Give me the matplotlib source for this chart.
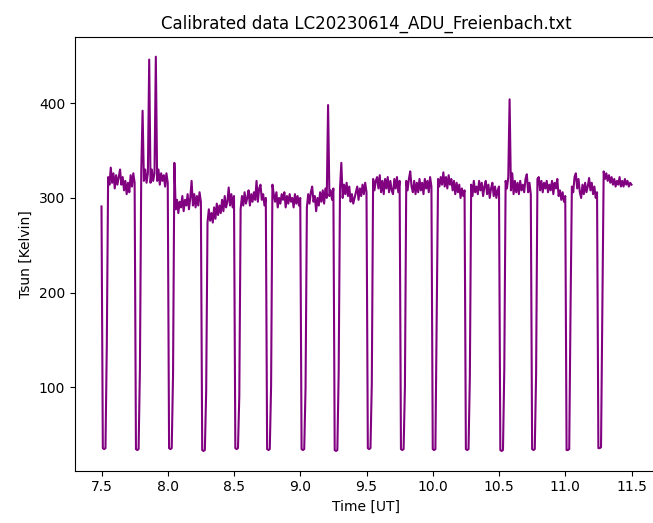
import numpy as np
import matplotlib
matplotlib.use("Agg")
import matplotlib.pyplot as plt

# ---- data ----
t_start = 7.50          # hours UT, first sample
t_step = 0.01           # sampling interval (hours)
first_value = 291

# calibration dips: three floor samples and one recovery sample each
dip_floor = [[36, 35, 36], [35, 34, 35], [36, 35, 36], [34, 33, 34],
             [36, 35, 36], [35, 34, 35], [35, 34, 35], [34, 33, 34],
             [36, 35, 36], [35, 34, 35], [35, 34, 35], [35, 34, 35],
             [34, 33, 34], [35, 34, 35], [34, 34, 35], [36, 36, 37]]
dip_recovery = [145, 120, 114, 96, 91, 102, 100, 116, 104, 101, 183, 111,
                120, 114, 184, 188]

# sun plateaus following each dip (Kelvin)
plateau_01 = [322, 314, 332, 316, 326, 310, 324, 314, 322, 330, 314,
              322, 308, 318, 304, 316, 306, 324, 312, 326, 316]
plateau_02 = [328, 392, 318, 330, 316, 326, 446, 316, 330, 318, 326,
              449, 318, 330, 314, 326, 318, 324, 312, 326, 316]
plateau_03 = [337, 288, 298, 284, 296, 290, 302, 286, 298, 292, 304,
              288, 300, 318, 292, 304, 290, 302, 292, 306, 296]
plateau_04 = [274, 288, 276, 284, 274, 290, 278, 294, 282, 292, 284,
              298, 286, 302, 290, 296, 311, 292, 304, 290, 302]
plateau_05 = [288, 302, 292, 306, 294, 300, 308, 292, 304, 296, 306,
              298, 318, 296, 310, 314, 298, 304, 292, 300]
plateau_06 = [314, 304, 296, 306, 290, 300, 294, 304, 298, 306, 290,
              302, 294, 304, 296, 300, 290, 304, 294, 302, 292, 300]
plateau_07 = [290, 304, 294, 306, 312, 296, 302, 286, 300, 292, 306,
              296, 308, 294, 310, 300, 398, 302, 308, 298, 310]
plateau_08 = [310, 337, 300, 314, 304, 316, 302, 312, 296, 304, 294,
              300, 306, 312, 298, 310, 302, 314, 304, 316, 306]
plateau_09 = [320, 308, 318, 322, 310, 324, 306, 318, 304, 320, 310,
              322, 306, 318, 308, 304, 320, 310, 322, 306, 318]
plateau_10 = [318, 308, 320, 328, 312, 306, 318, 304, 316, 306, 320,
              308, 316, 304, 320, 310, 318, 306, 322, 312]
plateau_11 = [320, 312, 322, 314, 327, 312, 322, 310, 324, 314, 320,
              308, 318, 304, 316, 306, 314, 300, 310, 302, 308]
plateau_12 = [314, 302, 318, 306, 312, 304, 318, 308, 316, 302, 312,
              318, 304, 314, 300, 310, 316, 302, 312, 300, 308, 312]
plateau_13 = [318, 310, 322, 404, 308, 326, 304, 318, 306, 316, 304,
              318, 308, 314, 306, 320, 325, 306, 316, 304]
plateau_14 = [320, 322, 308, 318, 306, 316, 310, 318, 306, 314, 308,
              318, 304, 316, 310, 320, 302, 308, 298, 306, 296, 302]
plateau_15 = [312, 306, 322, 326, 310, 320, 306, 300, 314, 304, 316,
              306, 312, 321, 308, 316, 304, 312, 300, 306]
plateau_16 = [328, 320, 326, 318, 324, 316, 322, 314, 320, 312, 318,
              314, 322, 312, 318, 312, 320, 314, 318, 312, 316, 314]

plateaus = [plateau_01, plateau_02, plateau_03, plateau_04, plateau_05,
            plateau_06, plateau_07, plateau_08, plateau_09, plateau_10,
            plateau_11, plateau_12, plateau_13, plateau_14, plateau_15,
            plateau_16]

# ---- assemble series ----
tsun = [first_value]
for floor, rec, plat in zip(dip_floor, dip_recovery, plateaus):
    tsun.extend(floor)
    tsun.append(rec)
    tsun.extend(plat)
tsun = np.array(tsun, dtype=float)
time = t_start + t_step * np.arange(len(tsun))

# ---- plot ----
W, H = 653, 523
fig = plt.figure(figsize=(W / 100, H / 100), dpi=100)
ax = fig.add_axes([75 / W, 1 - 470.7 / H, (658 - 75) / W, (470.7 - 37) / H])
ax.plot(time, tsun, color="purple", linewidth=1.5)
ax.set_title("Calibrated data LC20230614_ADU_Freienbach.txt")
ax.set_xlabel("Time [UT]")
ax.set_ylabel("Tsun [Kelvin]")
ax.set_xticks([7.5, 8.0, 8.5, 9.0, 9.5, 10.0, 10.5, 11.0, 11.5])
fig.savefig("out.png", dpi=100)
